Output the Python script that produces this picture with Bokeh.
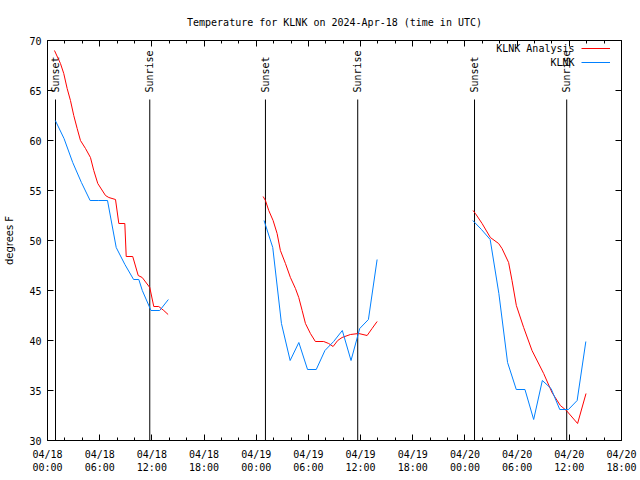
import math
from bokeh.plotting import figure
from bokeh.models import Range1d, FixedTicker, LinearAxis, Legend, LegendItem, Label
from bokeh.core.properties import value
from bokeh.embed import file_html
from bokeh.resources import INLINE

TITLE = "Temperature for KLNK on 2024-Apr-18 (time in UTC)"
Y_LABEL = "degrees F"

# x axis: hours since 2024-04-18 00:00 UTC
X_TICKS = [0, 6, 12, 18, 24, 30, 36, 42, 48, 54, 60, 66]
X_MINOR = [h for h in range(0, 67, 2)]
X_TICK_LABELS = ["04/18\n00:00", "04/18\n06:00", "04/18\n12:00", "04/18\n18:00",
                 "04/19\n00:00", "04/19\n06:00", "04/19\n12:00", "04/19\n18:00",
                 "04/20\n00:00", "04/20\n06:00", "04/20\n12:00", "04/20\n18:00"]
Y_TICKS = [30, 35, 40, 45, 50, 55, 60, 65, 70]

SERIES_NAMES = ["KLNK Analysis", "KLNK"]

# KLNK Analysis (red)
ANA1_H = [0.80, 1.49, 1.87, 2.26, 2.64, 3.02, 3.41, 3.79, 4.37, 4.94, 5.32, 5.78, 6.67, 7.05,
          7.82, 8.20, 8.89, 9.05, 9.80, 10.43, 10.89, 11.76, 12.22, 12.79, 13.37, 13.87]
ANA1_T = [69.0, 67.7, 66.7, 65.2, 64.0, 62.5, 61.2, 60.0, 59.2, 58.3, 57.0, 55.7, 54.5, 54.3,
          54.1, 51.7, 51.7, 48.4, 48.4, 46.5, 46.3, 45.3, 43.4, 43.4, 43.0, 42.6]
ANA2_H = [24.79, 25.06, 25.44, 25.94, 26.40, 26.78, 27.36, 27.93, 28.51, 28.89, 29.28, 29.66,
          30.23, 30.80, 31.76, 32.33, 32.84, 33.37, 33.87, 34.83, 35.78, 36.75, 37.32, 37.90]
ANA2_T = [54.4, 54.0, 53.0, 52.0, 50.7, 49.0, 47.7, 46.3, 45.2, 44.3, 43.0, 41.7,
          40.7, 39.9, 39.9, 39.7, 39.4, 40.0, 40.3, 40.6, 40.7, 40.5, 41.2, 41.9]
ANA3_H = [48.93, 49.20, 49.97, 50.92, 51.87, 52.26, 53.02, 53.41, 53.91, 54.75, 55.71, 57.05,
          58.01, 58.97, 59.66, 60.95, 61.92]
ANA3_T = [53.0, 52.7, 51.7, 50.3, 49.7, 49.2, 47.8, 46.0, 43.5, 41.3, 39.0, 36.7,
          34.8, 33.5, 33.0, 31.7, 34.7]

# KLNK observations (blue)
OBS1_H = [0.9, 1.9, 2.9, 3.9, 4.9, 5.9, 6.9, 7.9, 8.9, 9.9, 10.5, 10.9, 11.9, 12.9, 13.9]
OBS1_T = [62.0, 60.2, 57.8, 55.8, 54.0, 54.0, 54.0, 49.3, 47.6, 46.1, 46.1, 45.0, 43.0, 43.0, 44.1]
OBS2_H = [24.9, 25.9, 26.9, 27.9, 28.9, 29.9, 30.9, 31.9, 32.9, 33.9, 34.9, 35.9, 36.9, 37.9]
OBS2_T = [52.0, 49.3, 41.7, 38.0, 39.8, 37.1, 37.1, 39.0, 39.9, 41.0, 38.0, 41.2, 42.1, 48.1]
OBS3_H = [48.9, 49.9, 50.9, 51.9, 52.9, 53.9, 54.9, 55.9, 56.9, 57.9, 58.9, 59.9, 60.9, 61.9]
OBS3_T = [52.0, 51.1, 50.1, 44.7, 37.8, 35.1, 35.1, 32.1, 36.0, 35.2, 33.1, 33.1, 34.0, 39.9]

SUN_NAMES = ["Sunset", "Sunrise", "Sunset", "Sunrise", "Sunset", "Sunrise"]
SUN_HOURS = [0.92, 11.76, 25.06, 35.67, 49.10, 59.70]

MONO = "DejaVu Sans Mono"
RED = "#ff0000"
BLUE = "#0080ff"
LINE_TOP = 64.1
TEXT_BASE = 64.8


def join(*segs):
    out = []
    for i, s in enumerate(segs):
        if i:
            out.append(float("nan"))
        out.extend(s)
    return out


ana_x = join(ANA1_H, ANA2_H, ANA3_H)
ana_y = join(ANA1_T, ANA2_T, ANA3_T)
obs_x = join(OBS1_H, OBS2_H, OBS3_H)
obs_y = join(OBS1_T, OBS2_T, OBS3_T)

p = figure(width=640, height=480, output_backend="svg", toolbar_location=None,
           x_range=Range1d(0, 66), y_range=Range1d(30, 70),
           min_border_left=47, min_border_right=19, min_border_top=40, min_border_bottom=40,
           title=TITLE, background_fill_color="white", border_fill_color="white")
p.grid.visible = False
p.outline_line_color = "black"
p.outline_line_width = 1
p.outline_line_alpha = 1

p.title.align = "center"
p.title.text_font = MONO
p.title.text_font_size = "10px"
p.title.text_font_style = "normal"
p.title.text_color = "black"
p.title.standoff = 26

xa = p.xaxis[0]
xa.ticker = FixedTicker(ticks=X_TICKS, minor_ticks=X_MINOR)
xa.major_label_overrides = {t: l for t, l in zip(X_TICKS, X_TICK_LABELS)}
ya = p.yaxis[0]
ya.ticker = FixedTicker(ticks=Y_TICKS)
ya.major_label_overrides = {t: str(t) for t in Y_TICKS}
ya.axis_label = Y_LABEL
ya.axis_label_text_font = "DejaVu Sans"
ya.axis_label_text_font_size = "10px"
ya.axis_label_text_font_style = "normal"
ya.axis_label_text_color = "black"
ya.axis_label_standoff = 11

for ax in (xa, ya):
    ax.major_label_text_font = MONO
    ax.major_label_text_font_size = "10px"
    ax.major_label_text_color = "black"
    ax.major_label_standoff = 6
    ax.axis_line_color = None
    ax.major_tick_in = 6
    ax.major_tick_out = 0
    ax.minor_tick_in = 3
    ax.minor_tick_out = 0
    ax.major_tick_line_color = "black"
    ax.minor_tick_line_color = "black"
ya.minor_tick_line_color = None
xa.major_label_standoff = 8

top = LinearAxis(ticker=FixedTicker(ticks=X_TICKS, minor_ticks=X_MINOR))
right = LinearAxis(ticker=FixedTicker(ticks=Y_TICKS))
for ax in (top, right):
    ax.axis_line_color = None
    ax.major_tick_in = 6
    ax.major_tick_out = 0
    ax.minor_tick_in = 3
    ax.minor_tick_out = 0
    ax.major_tick_line_color = "black"
    ax.minor_tick_line_color = "black"
    ax.major_label_text_font_size = "0px"
    ax.major_label_text_color = None
    ax.major_label_standoff = 0
right.minor_tick_line_color = None
p.add_layout(top, "above")
p.add_layout(right, "right")

# sunrise / sunset markers
p.segment(x0=SUN_HOURS, y0=[30] * len(SUN_HOURS), x1=SUN_HOURS, y1=[LINE_TOP] * len(SUN_HOURS),
          line_color="black", line_width=1)
p.text(x=SUN_HOURS, y=[TEXT_BASE] * len(SUN_HOURS), text=SUN_NAMES, angle=math.pi / 2,
       text_align="left", text_baseline="middle", text_font=value(MONO),
       text_font_size="10px", text_color="black")

r_ana = p.line(ana_x, ana_y, line_color=RED, line_width=1)
r_obs = p.line(obs_x, obs_y, line_color=BLUE, line_width=1)

# legend: sample lines on the right, names to their left
legend = Legend(items=[LegendItem(label=value(""), renderers=[r_ana]),
                       LegendItem(label=value(""), renderers=[r_obs])],
                location=(534, 371), glyph_width=29, glyph_height=14, label_height=14,
                label_width=0, label_standoff=0, padding=0, spacing=0, margin=0,
                border_line_color=None, background_fill_alpha=0,
                label_text_font=MONO, label_text_font_size="10px")
p.add_layout(legend)
for name, sy in zip(SERIES_NAMES, [392, 378]):
    p.add_layout(Label(x=527, y=sy, x_units="screen", y_units="screen", text=name,
                       text_align="right", text_baseline="middle", text_font=MONO,
                       text_font_size="10px", text_color="black"))

open("out.html", "w").write(file_html(p, INLINE))
